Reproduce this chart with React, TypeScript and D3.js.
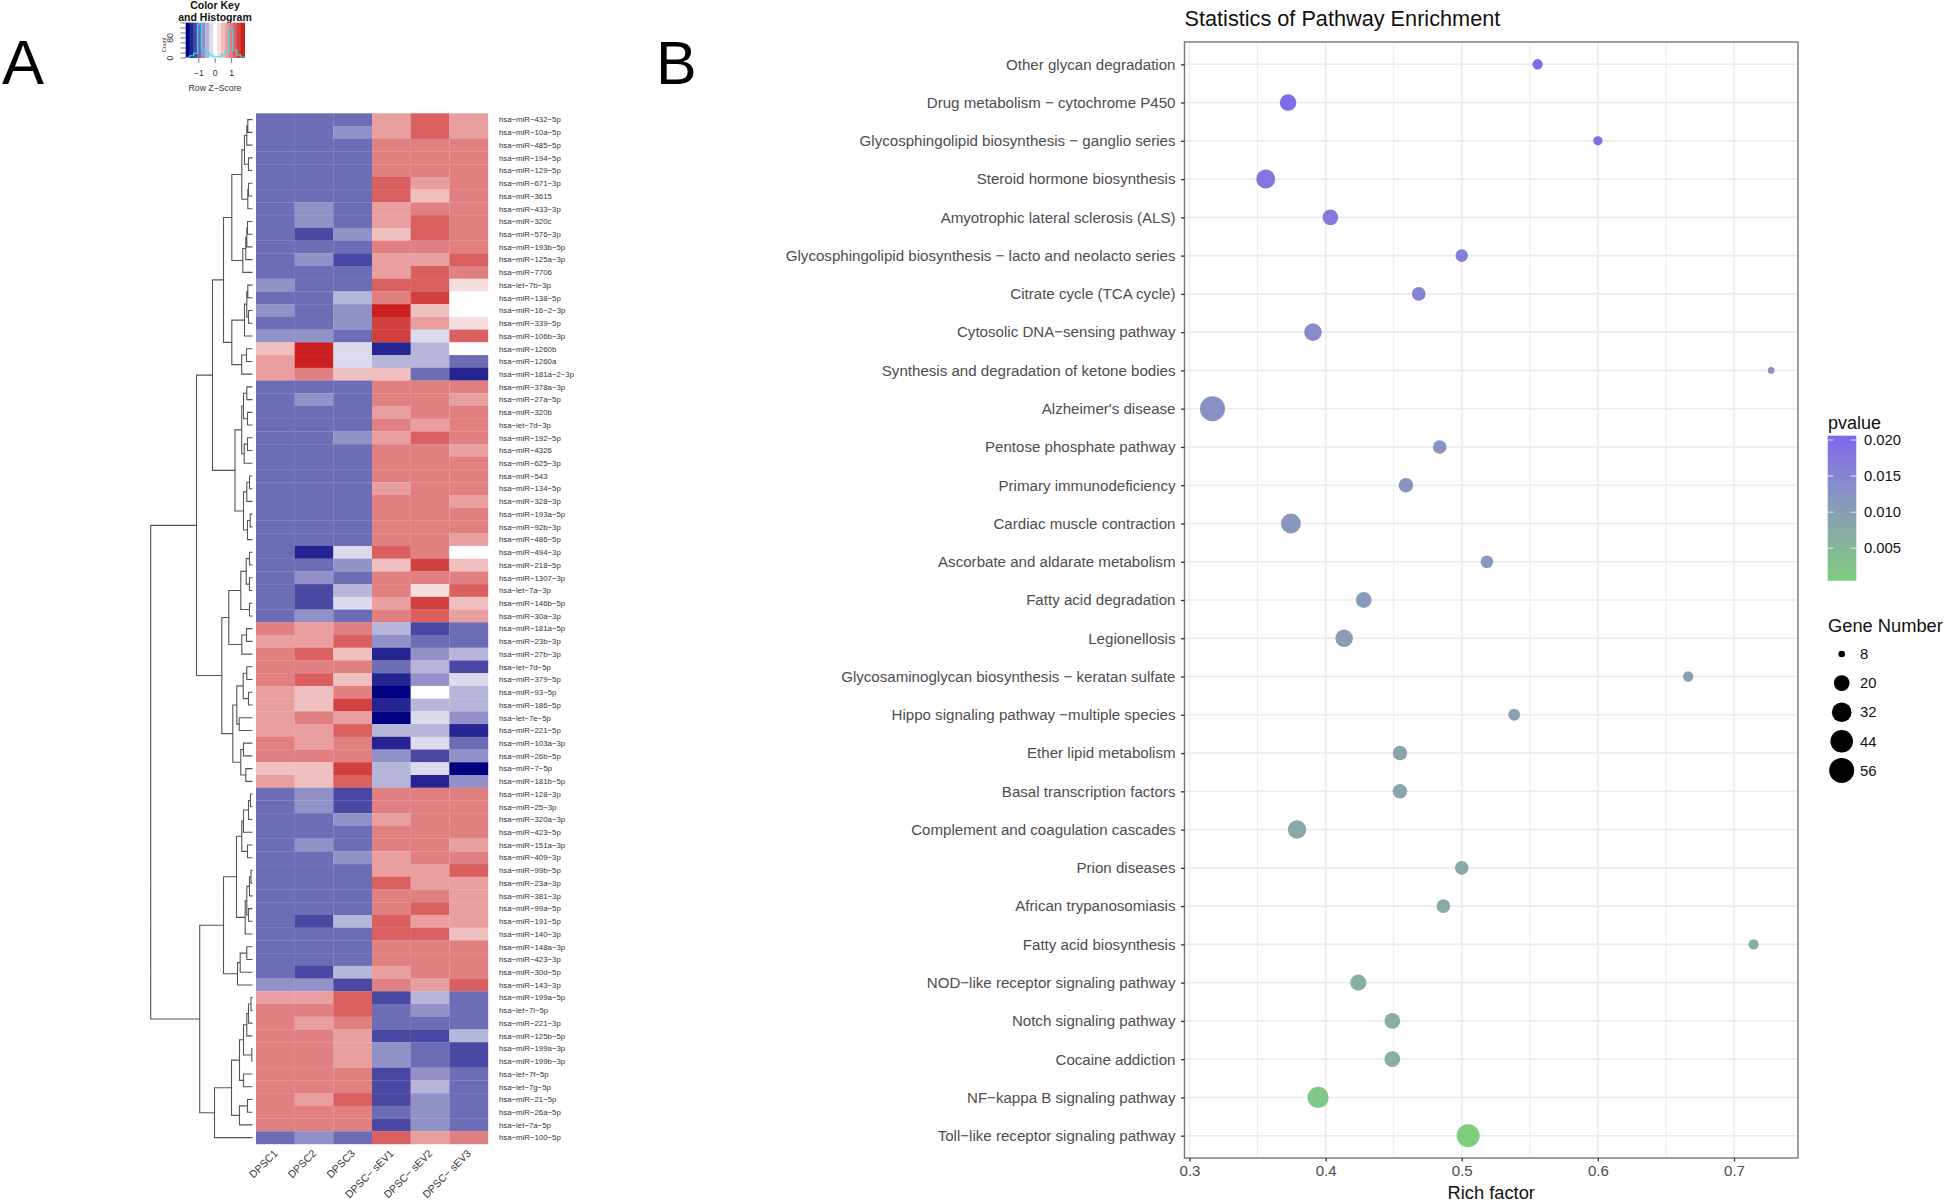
import React from 'react'
import * as d3 from 'd3'

const FONT = '"Liberation Sans", Arial, sans-serif'

// ---- panel A data ----
const miRNAs = [
  'hsa-miR-432-5p', 'hsa-miR-10a-5p', 'hsa-miR-485-5p', 'hsa-miR-194-5p', 'hsa-miR-129-5p', 'hsa-miR-671-3p',
  'hsa-miR-3615', 'hsa-miR-433-3p', 'hsa-miR-320c', 'hsa-miR-576-3p', 'hsa-miR-193b-5p', 'hsa-miR-125a-3p',
  'hsa-miR-7706', 'hsa-let-7b-3p', 'hsa-miR-138-5p', 'hsa-miR-16-2-3p', 'hsa-miR-339-5p', 'hsa-miR-106b-3p',
  'hsa-miR-1260b', 'hsa-miR-1260a', 'hsa-miR-181a-2-3p', 'hsa-miR-378a-3p', 'hsa-miR-27a-5p', 'hsa-miR-320b',
  'hsa-let-7d-3p', 'hsa-miR-192-5p', 'hsa-miR-4326', 'hsa-miR-625-3p', 'hsa-miR-543', 'hsa-miR-134-5p',
  'hsa-miR-328-3p', 'hsa-miR-193a-5p', 'hsa-miR-92b-3p', 'hsa-miR-486-5p', 'hsa-miR-494-3p', 'hsa-miR-218-5p',
  'hsa-miR-1307-3p', 'hsa-let-7a-3p', 'hsa-miR-146b-5p', 'hsa-miR-30a-3p', 'hsa-miR-181a-5p', 'hsa-miR-23b-3p',
  'hsa-miR-27b-3p', 'hsa-let-7d-5p', 'hsa-miR-379-5p', 'hsa-miR-93-5p', 'hsa-miR-186-5p', 'hsa-let-7e-5p',
  'hsa-miR-221-5p', 'hsa-miR-103a-3p', 'hsa-miR-26b-5p', 'hsa-miR-7-5p', 'hsa-miR-181b-5p', 'hsa-miR-128-3p',
  'hsa-miR-25-3p', 'hsa-miR-320a-3p', 'hsa-miR-423-5p', 'hsa-miR-151a-3p', 'hsa-miR-409-3p', 'hsa-miR-99b-5p',
  'hsa-miR-23a-3p', 'hsa-miR-381-3p', 'hsa-miR-99a-5p', 'hsa-miR-191-5p', 'hsa-miR-140-3p', 'hsa-miR-148a-3p',
  'hsa-miR-423-3p', 'hsa-miR-30d-5p', 'hsa-miR-143-3p', 'hsa-miR-199a-5p', 'hsa-let-7i-5p', 'hsa-miR-221-3p',
  'hsa-miR-125b-5p', 'hsa-miR-199a-3p', 'hsa-miR-199b-3p', 'hsa-let-7f-5p', 'hsa-let-7g-5p', 'hsa-miR-21-5p',
  'hsa-miR-26a-5p', 'hsa-let-7a-5p', 'hsa-miR-100-5p',
]
const samples = ['DPSC1', 'DPSC2', 'DPSC3', 'DPSC- sEV1', 'DPSC- sEV2', 'DPSC- sEV3']

// colour key levels, -7 (navy) .. 0 (white) .. 7 (red), one row per miRNA
const zLevels = [
  [-4, -4, -4, 3, 5, 3], [-4, -4, -3, 3, 5, 3], [-4, -4, -4, 4, 4, 4], [-4, -4, -4, 4, 4, 4], [-4, -4, -4, 4, 4, 4],
  [-4, -4, -4, 5, 3, 4], [-4, -4, -4, 5, 2, 4], [-4, -3, -4, 3, 4, 4], [-4, -3, -4, 3, 5, 4], [-4, -5, -3, 2, 5, 4],
  [-4, -4, -4, 4, 4, 4], [-4, -3, -5, 3, 3, 5], [-4, -4, -4, 3, 5, 4], [-3, -4, -4, 5, 5, 1], [-4, -4, -2, 4, 6, 0],
  [-3, -4, -3, 7, 2, 0], [-4, -4, -3, 6, 3, 1], [-3, -3, -4, 6, -1, 5], [2, 7, -1, -6, -2, 0], [3, 7, -1, -2, -2, -4],
  [3, 4, 2, 2, -4, -6], [-4, -4, -4, 4, 4, 4], [-4, -3, -4, 4, 4, 3], [-4, -4, -4, 3, 4, 4], [-4, -4, -4, 4, 3, 4],
  [-4, -4, -3, 3, 5, 4], [-4, -4, -4, 4, 4, 3], [-4, -4, -4, 4, 4, 4], [-4, -4, -4, 4, 4, 4], [-4, -4, -4, 3, 4, 4],
  [-4, -4, -4, 4, 4, 3], [-4, -4, -4, 4, 4, 4], [-4, -4, -4, 4, 4, 4], [-4, -4, -4, 4, 4, 3], [-4, -6, -1, 5, 4, 0],
  [-4, -4, -3, 2, 6, 2], [-4, -3, -4, 4, 4, 4], [-4, -5, -2, 4, 1, 5], [-4, -5, -1, 3, 6, 2], [-4, -3, -4, 4, 5, 3],
  [4, 3, 4, -2, -5, -4], [3, 3, 5, -3, -4, -4], [4, 5, 2, -6, -3, -2], [4, 4, 4, -4, -2, -5], [4, 5, 2, -6, -3, -1],
  [3, 2, 4, -7, 0, -2], [3, 2, 6, -6, -2, -2], [3, 4, 3, -7, -1, -3], [3, 3, 5, -2, -2, -6], [4, 3, 4, -6, -1, -4],
  [4, 4, 4, -3, -5, -3], [2, 2, 6, -2, -1, -7], [3, 2, 5, -2, -6, -3], [-4, -3, -5, 4, 4, 4], [-4, -3, -5, 4, 4, 4],
  [-4, -4, -3, 3, 4, 4], [-4, -4, -4, 4, 4, 4], [-4, -3, -4, 4, 4, 3], [-4, -4, -3, 3, 4, 4], [-4, -4, -4, 3, 3, 5],
  [-4, -4, -4, 5, 3, 3], [-4, -4, -4, 4, 4, 3], [-4, -4, -4, 4, 5, 3], [-4, -5, -2, 5, 3, 3], [-4, -4, -4, 5, 5, 2],
  [-4, -4, -4, 4, 4, 4], [-4, -4, -4, 4, 4, 4], [-4, -5, -2, 3, 4, 4], [-3, -3, -5, 4, 3, 5], [3, 3, 5, -5, -2, -4],
  [4, 4, 5, -4, -3, -4], [4, 3, 4, -4, -4, -4], [4, 4, 3, -5, -5, -2], [4, 4, 3, -3, -4, -5], [4, 4, 3, -3, -4, -5],
  [4, 4, 4, -5, -3, -4], [4, 4, 4, -5, -2, -4], [4, 3, 5, -5, -3, -4], [4, 4, 4, -4, -3, -4], [4, 4, 4, -5, -3, -4],
  [-4, -3, -4, 5, 3, 4],
]

// colour key histogram, one count per colour level
const histCounts = [3, 9, 19, 136, 36, 21, 12, 5, 5, 15, 25, 119, 32, 12, 4]
const keyLevels = d3.range(-7, 8)
const keyTicks = [-1, 0, 1]
const countTicks = [0, 20, 40, 60, 80, 100, 120, 140]

// dendrogram: [height, left, right], 0 is a leaf, leaves go in miRNAs order
const top13 = [20.7,
  [10.7, [8, [5.7, [4.7, 0, 0], 0], [4, 0, 0]], [4.7, [4, 0, 0], 0]],
  [9.7, [6.7, [5.7, [5, 0, 0], 0], 0], 0]]
const next8 = [20.7, [8, [5.7, [4.7, 0, 0], [4, 0, 0]], 0], [10.8, [6, 0, 0], 0]]
const next13 = [17.5,
  [10.8, [9, [5.7, 0, 0], [5, 0, 0]], [8.3, [5, 0, 0], 0]],
  [9, [5.7, [3, 0, 0], 0], [5, [2.3, 0, 0], 0]]]
const next9 = [23.7, [11.7, [6.3, [3, 0, 0], [3, 0, 0]], [3, 0, 0]], [10.7, [6, 0, 0], 0]]
const next10 = [19.7,
  [15.7, [9.3, [5.7, 0, 0], [4, 0, 0]], [13.3, 0, 0]],
  [11.7, [9, 0, 0], [6.7, 0, 0]]]
const next16 = [29,
  [16,
    [10.7, [9, [4, [2, 0, 0], 0], 0], [5, 0, 0]],
    [7.3, [5.7, [3, [1.5, 0, 0], 0], [4, 0, 0]], 0]],
  [15, [12.3, [5.7, 0, 0], 0], 0]]
const last12 = [38,
  [21,
    [13, [9, [5.7, [4, [1.5, 0, 0], 0], 0], [0.7, 0, 0]], [9, 0, 0]],
    [13, [5, 0, 0], 0]],
  0]
const tree = [101.8,
  [56, [40, [29, top13, next8], next13], [30.7, next9, next10]],
  [52.8, next16, last12]]

// ---- panel B data ----
const pathways = [
  'Other glycan degradation', 'Drug metabolism \u2212 cytochrome P450', 'Glycosphingolipid biosynthesis \u2212 ganglio series',
  'Steroid hormone biosynthesis', 'Amyotrophic lateral sclerosis (ALS)', 'Glycosphingolipid biosynthesis \u2212 lacto and neolacto series',
  'Citrate cycle (TCA cycle)', 'Cytosolic DNA\u2212sensing pathway', 'Synthesis and degradation of ketone bodies',
  "Alzheimer's disease", 'Pentose phosphate pathway', 'Primary immunodeficiency', 'Cardiac muscle contraction',
  'Ascorbate and aldarate metabolism', 'Fatty acid degradation', 'Legionellosis', 'Glycosaminoglycan biosynthesis \u2212 keratan sulfate',
  'Hippo signaling pathway \u2212multiple species', 'Ether lipid metabolism', 'Basal transcription factors',
  'Complement and coagulation cascades', 'Prion diseases', 'African trypanosomiasis', 'Fatty acid biosynthesis',
  'NOD\u2212like receptor signaling pathway', 'Notch signaling pathway', 'Cocaine addiction', 'NF\u2212kappa B signaling pathway',
  'Toll\u2212like receptor signaling pathway',
]
const richFactor = [
  0.5557, 0.3724, 0.6, 0.356, 0.4035, 0.5, 0.4684, 0.3907, 0.7273, 0.3169, 0.4838, 0.459, 0.3745, 0.5185, 0.428,
  0.4136, 0.6663, 0.5385, 0.4546, 0.4546, 0.379, 0.5, 0.4865, 0.7144, 0.424, 0.449, 0.449, 0.3945, 0.5047,
]
const geneNumber = [
  10, 22, 9, 30, 20, 13, 15, 25, 8, 56, 15, 17, 33, 13, 20, 25, 10, 12, 17, 17, 28, 15, 15, 10, 21, 20, 20, 38, 46,
]
const pValue = [
  0.02, 0.0196, 0.0192, 0.0178, 0.0172, 0.0162, 0.0155, 0.0135, 0.013, 0.0128, 0.0124, 0.012, 0.0116, 0.0112,
  0.0108, 0.0104, 0.0096, 0.0092, 0.0086, 0.0084, 0.0078, 0.0076, 0.0074, 0.007, 0.0066, 0.0064, 0.0063, 0.002, 0.0006,
]
const richTicks = [0.3, 0.4, 0.5, 0.6, 0.7]
const richMinor = [0.35, 0.45, 0.55, 0.65]
const pTicks = [0.02, 0.015, 0.01, 0.005]
const sizeLegend = [8, 20, 32, 44, 56]

const minus = (s: string) => s.replace(/-/g, '\u2212')

function Heatmap() {
  const xCell = d3.scaleBand().domain(samples).range([256, 488])
  const yCell = d3.scaleBand().domain(miRNAs).range([113.3, 1144])
  const color = d3.scaleLinear<string>().domain([-7, 0, 7]).range(['#000080', '#ffffff', '#cb2020'])
  const xTree = d3.scaleLinear().domain([0, 101.8]).range([252.5, 150.7])

  // dendrogram with d3.hierarchy, parents sit halfway between their children
  const root = d3.hierarchy<any>(tree, d => (Array.isArray(d) ? d.slice(1) : null))
  root.leaves().forEach((l: any, i) => {
    l.py = yCell(miRNAs[i])! + yCell.bandwidth() / 2
  })
  root.eachAfter((n: any) => {
    if (n.children) n.py = (n.children[0].py + n.children[1].py) / 2
  })
  const height = (n: any) => (n.children ? n.data[0] : 0)
  const links = root
    .descendants()
    .filter(n => n.children)
    .map((n: any) => {
      const x = xTree(height(n))
      const [a, b] = n.children
      return `M${xTree(height(a))},${a.py}H${x}V${b.py}H${xTree(height(b))}`
    })

  // colour key
  const xKey = d3.scaleLinear().domain([-1.8, 1.8]).range([185.7, 244.7])
  const yCount = d3.scaleLinear().domain([0, 141]).range([58, 22.7])
  const binW = 3.6 / keyLevels.length
  const histLine = d3
    .line<number>()
    .x((_, i) => xKey(-1.8 + i * binW))
    .y(d => yCount(d))
    .curve(d3.curveStepAfter)

  return (
    <g fontFamily={FONT}>
      <text x={2} y={84} fontSize={63} fill="#000">A</text>

      <g fill="#111" textAnchor="middle">
        <text x={215} y={9} fontSize={10.5} fontWeight="bold">Color Key</text>
        <text x={215} y={21} fontSize={10.5} fontWeight="bold">and Histogram</text>
      </g>
      {keyLevels.map((l, i) => (
        <rect
          key={l}
          x={xKey(-1.8 + i * binW)}
          y={22.7}
          width={xKey(-1.8 + binW) - xKey(-1.8) + 0.3}
          height={35.3}
          fill={color(l)}
        />
      ))}
      <path d={histLine([...histCounts, histCounts[histCounts.length - 1]]) || ''} fill="none" stroke="#2fe6ee" strokeWidth={1.1} />
      {countTicks.map(c => (
        <line key={c} x1={180.5} x2={185.7} y1={yCount(c)} y2={yCount(c)} stroke="#444" strokeWidth={0.7} />
      ))}
      {keyTicks.map(t => (
        <g key={t}>
          <line x1={xKey(t)} x2={xKey(t)} y1={58} y2={63} stroke="#444" strokeWidth={0.7} />
          <text x={xKey(t)} y={76} fontSize={8.7} textAnchor="middle" fill="#333">
            {t < 0 ? `\u2212${-t}` : t}
          </text>
        </g>
      ))}
      <text x={215} y={91} fontSize={8.7} textAnchor="middle" fill="#333">{minus('Row Z-Score')}</text>
      <text transform={`translate(173,${yCount(0)}) rotate(-90)`} fontSize={8.7} textAnchor="middle" fill="#333">0</text>
      <text transform={`translate(173,${yCount(80)}) rotate(-90)`} fontSize={8.7} textAnchor="middle" fill="#333">80</text>
      <text transform="translate(166,45) rotate(-90)" fontSize={5.5} textAnchor="middle" fill="#333">Count</text>

      {zLevels.map((row, r) =>
        row.map((v, c) => (
          <rect
            key={`${r}-${c}`}
            x={xCell(samples[c])}
            y={yCell(miRNAs[r])}
            width={xCell.bandwidth() + 0.2}
            height={yCell.bandwidth() + 0.2}
            fill={color(v)}
          />
        ))
      )}
      <path d={links.join('')} fill="none" stroke="#555" strokeWidth={1.1} />

      {miRNAs.map(m => (
        <text key={m} x={499} y={yCell(m)! + yCell.bandwidth() / 2 + 2.8} fontSize={7.8} fill="#333">
          {minus(m)}
        </text>
      ))}
      {samples.map(s => (
        <text
          key={s}
          transform={`translate(${xCell(s)! + xCell.bandwidth() / 2 + 3},1154) rotate(-45)`}
          fontSize={10.5}
          textAnchor="end"
          fill="#333"
        >
          {minus(s)}
        </text>
      ))}
    </g>
  )
}

function DotPlot() {
  const xAxisRef = React.useRef<SVGGElement>(null)
  const yAxisRef = React.useRef<SVGGElement>(null)

  const left = 1184.5
  const right = 1798
  const top = 42
  const bottom = 1158

  const x = d3.scaleLinear().domain([0.3, 0.7]).range([1189.5, 1734])
  const y = d3.scalePoint().domain(pathways).range([64.3, 1135.7])
  // ggplot area scale: radius grows with the square root above the smallest size
  const radiusOf = d3.scaleSqrt().domain([0, 48]).range([3.3, 12.5])
  const r = (g: number) => radiusOf(g - 8)
  const pColor = d3
    .scaleLinear<string>()
    .domain([0.0005, 0.0206])
    .range(['#7CCD7C', '#7B68EE'])
    .interpolate(d3.interpolateLab)
  const yBar = d3.scaleLinear().domain([0.0005, 0.0206]).range([580.7, 435.7])
  const stops = d3.range(0, 1.0001, 0.1)

  React.useEffect(() => {
    const xAxis = d3.axisBottom(x).tickValues(richTicks).tickFormat(d3.format('.1f') as any).tickSize(3.5).tickPadding(4)
    const yAxis = d3.axisLeft(y).tickSize(3.5).tickPadding(5.5)
    for (const [ref, axis] of [[xAxisRef, xAxis], [yAxisRef, yAxis]] as any) {
      const g = d3.select(ref.current).call(axis)
      g.select('.domain').remove()
      g.selectAll('line').attr('stroke', '#333').attr('stroke-width', 1.3)
      g.selectAll('text').attr('fill', '#4d4d4d').attr('font-size', 15.1).attr('font-family', FONT)
    }
  }, [])

  return (
    <g fontFamily={FONT}>
      <text x={656} y={84} fontSize={61} fill="#000">B</text>
      <text x={left} y={26} fontSize={21.7} fill="#111">Statistics of Pathway Enrichment</text>

      {richMinor.map(t => (
        <line key={t} x1={x(t)} x2={x(t)} y1={top} y2={bottom} stroke="#ebebeb" strokeWidth={0.9} />
      ))}
      {richTicks.map(t => (
        <line key={t} x1={x(t)} x2={x(t)} y1={top} y2={bottom} stroke="#ebebeb" strokeWidth={1.6} />
      ))}
      {pathways.map(p => (
        <line key={p} x1={left} x2={right} y1={y(p)} y2={y(p)} stroke="#ebebeb" strokeWidth={1.6} />
      ))}

      {pathways.map((p, i) => (
        <circle key={p} cx={x(richFactor[i])} cy={y(p)} r={r(geneNumber[i])} fill={pColor(pValue[i])} />
      ))}

      <rect x={left} y={top} width={right - left} height={bottom - top} fill="none" stroke="#777" strokeWidth={1.4} />
      <g ref={xAxisRef} transform={`translate(0,${bottom})`} />
      <g ref={yAxisRef} transform={`translate(${left},0)`} />
      <text x={(left + right) / 2} y={1199} fontSize={18.3} textAnchor="middle" fill="#111">Rich factor</text>

      <text x={1828} y={429} fontSize={18} fill="#111">pvalue</text>
      <defs>
        <linearGradient id="pBar" x1="0" x2="0" y1="1" y2="0">
          {stops.map(s => (
            <stop key={s} offset={s} stopColor={pColor(0.0005 + s * 0.0201)} />
          ))}
        </linearGradient>
      </defs>
      <rect x={1827.7} y={435.7} width={28.6} height={145} fill="url(#pBar)" />
      {pTicks.map(t => (
        <g key={t}>
          <line x1={1827.7} x2={1833.4} y1={yBar(t)} y2={yBar(t)} stroke="#fff" strokeWidth={0.8} />
          <line x1={1850.6} x2={1856.3} y1={yBar(t)} y2={yBar(t)} stroke="#fff" strokeWidth={0.8} />
          <text x={1864} y={yBar(t) + 5.2} fontSize={14.8} fill="#111">{t.toFixed(3)}</text>
        </g>
      ))}

      <text x={1828} y={632} fontSize={18.3} fill="#111">Gene Number</text>
      {sizeLegend.map((g, i) => (
        <g key={g}>
          <circle cx={1841.7} cy={654 + i * 29.1} r={r(g)} fill="#000" />
          <text x={1860} y={654 + i * 29.1 + 5.2} fontSize={14.8} fill="#111">{g}</text>
        </g>
      ))}
    </g>
  )
}

export default function App() {
  return (
    <svg
      width={1946}
      height={1203}
      style={{ position: 'absolute', left: 0, top: 0, display: 'block', background: '#fff' }}
    >
      <Heatmap />
      <DotPlot />
    </svg>
  )
}
